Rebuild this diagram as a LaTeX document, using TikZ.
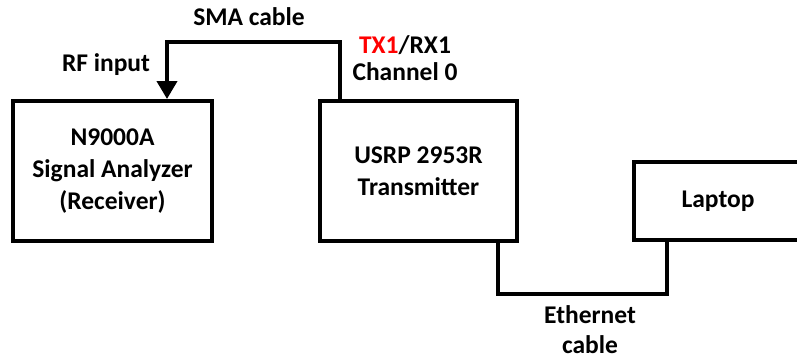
\documentclass[tikz,border=0pt]{standalone}
\usepackage{fontspec}
\setmainfont{Carlito}
\usetikzlibrary{arrows.meta, positioning}
\definecolor{linecolor}{RGB}{0, 0, 0}
\definecolor{portcolor}{RGB}{255, 0, 0}
\tikzset{
  device/.style={
    rectangle, draw=linecolor, line width=4pt,
    align=center, text centered,
    font=\fontsize{25.5}{32}\selectfont\bfseries
  },
  label/.style={
    align=center, inner sep=0pt,
    font=\fontsize{25.5}{28}\selectfont\bfseries
  },
  cable/.style={
    line width=4pt, color=linecolor
  },
  feed/.style={
    cable, -{Triangle[length=18pt, width=20pt]}
  }
}

\begin{document}
\begin{tikzpicture}[x=1pt, y=-1pt]

  \useasboundingbox (0,0) rectangle (797,360);

  % ── Devices ────────────────────────────────────────────────
  \node[device, minimum width=199pt, minimum height=140pt] (analyzer) at (112.5,171)
    {N9000A\\Signal Analyzer\\(Receiver)};
  \node[device, minimum width=197pt, minimum height=140pt] (usrp) at (418.5,171)
    {USRP 2953R\\Transmitter};
  \node[device, minimum width=168pt, minimum height=78pt] (laptop) at (718,201)
    {Laptop};

  % ── Cable corners ──────────────────────────────────────────
  \coordinate (txport) at (340,42);
  \coordinate (rfport) at (167,42);
  \coordinate (ethusrp) at (498,294);
  \coordinate (ethlap)  at (667,294);

  % ── SMA cable ──────────────────────────────────────────────
  \draw[feed] (usrp.north -| txport) -- (txport) -- (rfport) -- (analyzer.north -| rfport);

  % ── Ethernet cable ─────────────────────────────────────────
  \draw[cable] (usrp.south -| ethusrp) -- (ethusrp) -- (ethlap) -- (laptop.south -| ethlap);

  % ── Labels ─────────────────────────────────────────────────
  \node[label] (smalabel) at (249,17) {SMA cable};
  \node[label] (rflabel)  at (106,65) {RF input};
  \node[label, font=\fontsize{25.5}{27}\selectfont\bfseries] (txlabel) at (405,58)
    {\textcolor{portcolor}{TX1}/RX1\\Channel 0};
  \node[label, font=\fontsize{25.5}{30}\selectfont\bfseries] (ethlabel) at (590,330)
    {Ethernet\\cable};

\end{tikzpicture}
\end{document}
